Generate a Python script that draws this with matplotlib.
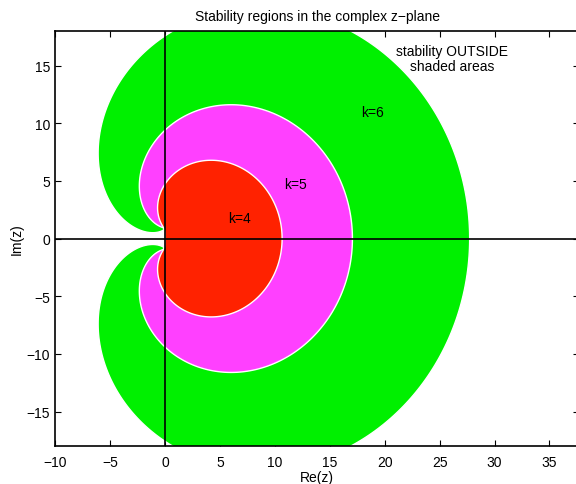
import numpy as np
import matplotlib.pyplot as plt

plt.rcParams['font.family'] = ['Liberation Sans', 'DejaVu Sans']

# BDF orders shown, drawn largest first so smaller regions sit on top
orders = [6, 5, 4]
colors = ['#00f000', '#ff40ff', '#ff2200']
labels = ['k=6', 'k=5', 'k=4']
label_pos = [(18.9, 11.0), (11.9, 4.7), (6.8, 1.8)]

xticks = [-10, -5, 0, 5, 10, 15, 20, 25, 30, 35]
yticks = [-15, -10, -5, 0, 5, 10, 15]

# boundary locus of the k-step BDF: z = sum_{j=1..k} (1 - 1/r)^j / j, r = e^{i theta}
theta = np.linspace(0, 2 * np.pi, 1200)
r = np.exp(1j * theta)
d = 1 - 1 / r

fig = plt.figure(figsize=(5.76, 4.85), dpi=100)
# right spine sits just past the picture edge, as in the original crop
ax = fig.add_axes([0.0955, 0.078, 0.91, 0.856])

for k, c in zip(orders, colors):
    z = sum(d ** j / j for j in range(1, k + 1))
    ax.fill(z.real, z.imag, color=c, edgecolor='white', linewidth=1.0, zorder=2)

ax.axhline(0, color='black', linewidth=1.2, zorder=3)
ax.axvline(0, color='black', linewidth=1.2, zorder=3)

for lab, (x, y) in zip(labels, label_pos):
    ax.text(x, y, lab, fontsize=10, ha='center', va='center', zorder=4)

ax.text(26.1, 15.6, 'stability OUTSIDE\nshaded areas', fontsize=10,
        ha='center', va='center', linespacing=1.1, zorder=4)

ax.set_xlim(-10, 37.7)
ax.set_ylim(-18, 18)
ax.set_xticks(xticks)
ax.set_yticks(yticks)
ax.tick_params(direction='in', top=True, right=True, labelsize=10, length=4)
ax.tick_params(axis='x', pad=6)
for s in ax.spines.values():
    s.set_linewidth(1.2)
ax.set_title('Stability regions in the complex z\u2212plane', fontsize=10, pad=8)
ax.set_xlabel('Re(z)', fontsize=10, labelpad=1)
ax.set_ylabel('Im(z)', fontsize=10, labelpad=2)

fig.savefig('out.png', dpi=100)
